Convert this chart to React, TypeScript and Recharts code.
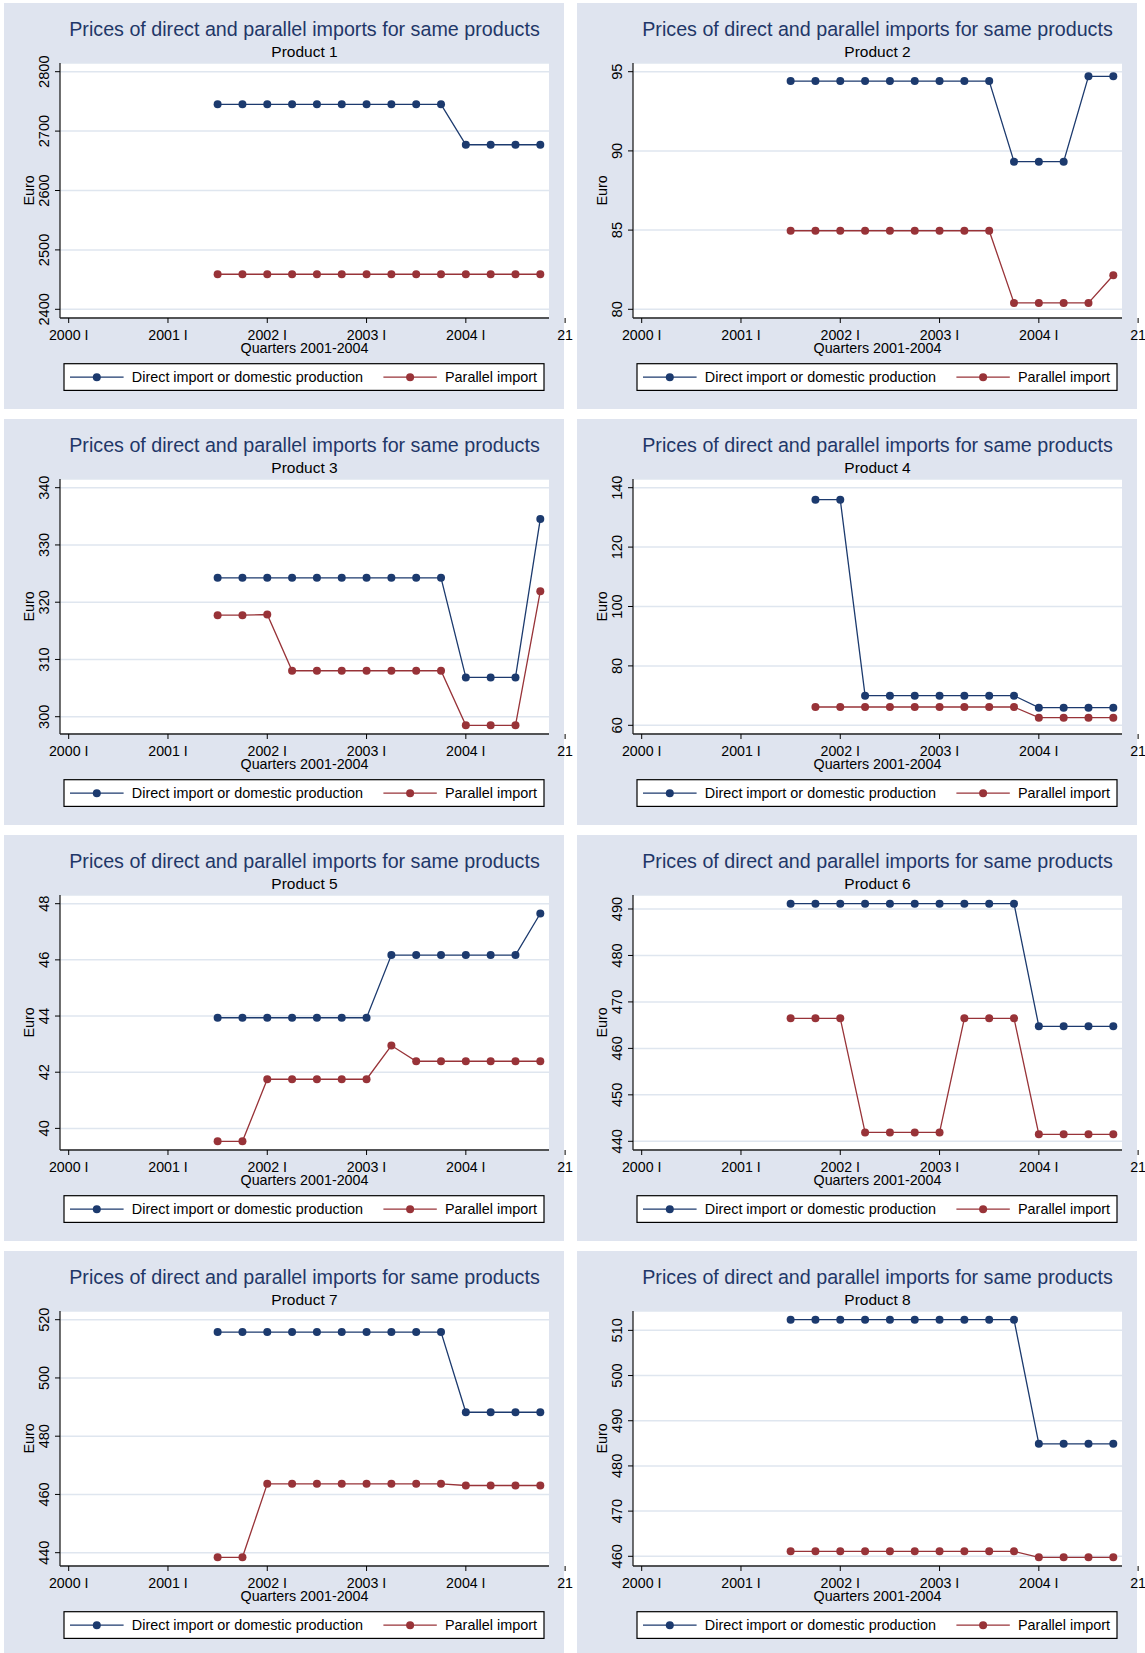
import React from 'react';
import { LineChart, Line, XAxis, YAxis, CartesianGrid } from 'recharts';

// quarter index: 0 = 2000 I
const QUARTERS = [6, 7, 8, 9, 10, 11, 12, 13, 14, 15, 16, 17, 18, 19];
const X_TICKS = [0, 4, 8, 12, 16, 20];
const X_TICK_LABELS = ['2000 I', '2001 I', '2002 I', '2003 I', '2004 I', '21'];

const SERIES_NAMES = ['Direct import or domestic production', 'Parallel import'];
const PRODUCT_NAMES = ['Product 1', 'Product 2', 'Product 3', 'Product 4', 'Product 5', 'Product 6', 'Product 7', 'Product 8'];

const P1_DIRECT = [2745, 2745, 2745, 2745, 2745, 2745, 2745, 2745, 2745, 2745, 2677, 2677, 2677, 2677];
const P1_PARALLEL = [2459, 2459, 2459, 2459, 2459, 2459, 2459, 2459, 2459, 2459, 2459, 2459, 2459, 2459];
const P1_TICKS = [2400, 2500, 2600, 2700, 2800];

const P2_DIRECT = [94.41, 94.41, 94.41, 94.41, 94.41, 94.41, 94.41, 94.41, 94.41, 89.32, 89.32, 89.32, 94.71, 94.71];
const P2_PARALLEL = [84.96, 84.96, 84.96, 84.96, 84.96, 84.96, 84.96, 84.96, 84.96, 80.4, 80.4, 80.4, 80.4, 82.15];
const P2_TICKS = [80, 85, 90, 95];

const P3_DIRECT = [324.25, 324.25, 324.25, 324.25, 324.25, 324.25, 324.25, 324.25, 324.25, 324.25, 306.86, 306.86, 306.86, 334.54];
const P3_PARALLEL = [317.74, 317.74, 317.85, 308.03, 308.03, 308.03, 308.03, 308.03, 308.03, 308.03, 298.5, 298.5, 298.5, 321.93];
const P3_TICKS = [300, 310, 320, 330, 340];

const P4_DIRECT = [null, 135.96, 135.96, 69.97, 69.97, 69.97, 69.97, 69.97, 69.97, 69.97, 65.93, 65.93, 65.93, 65.93];
const P4_PARALLEL = [null, 66.16, 66.16, 66.16, 66.16, 66.16, 66.16, 66.16, 66.16, 66.16, 62.56, 62.56, 62.56, 62.56];
const P4_TICKS = [60, 80, 100, 120, 140];

const P5_DIRECT = [43.94, 43.94, 43.94, 43.94, 43.94, 43.94, 43.94, 46.17, 46.17, 46.17, 46.17, 46.17, 46.17, 47.65];
const P5_PARALLEL = [39.54, 39.54, 41.75, 41.75, 41.75, 41.75, 41.75, 42.95, 42.39, 42.39, 42.39, 42.39, 42.39, 42.39];
const P5_TICKS = [40, 42, 44, 46, 48];

const P6_DIRECT = [491.14, 491.14, 491.14, 491.14, 491.14, 491.14, 491.14, 491.14, 491.14, 491.14, 464.74, 464.74, 464.74, 464.74];
const P6_PARALLEL = [466.47, 466.47, 466.47, 441.92, 441.92, 441.92, 441.92, 466.47, 466.47, 466.47, 441.5, 441.5, 441.5, 441.5];
const P6_TICKS = [440, 450, 460, 470, 480, 490];

const P7_DIRECT = [515.75, 515.75, 515.75, 515.75, 515.75, 515.75, 515.75, 515.75, 515.75, 515.75, 488.22, 488.22, 488.22, 488.22];
const P7_PARALLEL = [438.42, 438.42, 463.65, 463.65, 463.65, 463.65, 463.65, 463.65, 463.65, 463.65, 463.08, 463.08, 463.08, 463.08];
const P7_TICKS = [440, 460, 480, 500, 520];

const P8_DIRECT = [512.36, 512.36, 512.36, 512.36, 512.36, 512.36, 512.36, 512.36, 512.36, 512.36, 484.9, 484.9, 484.9, 484.9];
const P8_PARALLEL = [461.1, 461.1, 461.1, 461.1, 461.1, 461.1, 461.1, 461.1, 461.1, 461.1, 459.78, 459.78, 459.78, 459.78];
const P8_TICKS = [460, 470, 480, 490, 500, 510];

const DIRECT = [P1_DIRECT, P2_DIRECT, P3_DIRECT, P4_DIRECT, P5_DIRECT, P6_DIRECT, P7_DIRECT, P8_DIRECT];
const PARALLEL = [P1_PARALLEL, P2_PARALLEL, P3_PARALLEL, P4_PARALLEL, P5_PARALLEL, P6_PARALLEL, P7_PARALLEL, P8_PARALLEL];
const Y_TICKS = [P1_TICKS, P2_TICKS, P3_TICKS, P4_TICKS, P5_TICKS, P6_TICKS, P7_TICKS, P8_TICKS];

const FONT = '"Liberation Sans", Arial, Helvetica, sans-serif';
const NAVY = '#1c3a6e';
const MAROON = '#983338';
const TITLE_COLOR = '#1f3768';
const PANEL_BG = '#dfe4ef';
const GRID = '#dfe6ef';

const PANEL_W = 560;
const PANEL_H = 406;
const CHART_W = 572;
const PLOT_L = 56;
const PLOT_R = 545;
const PLOT_T = 60;
const PLOT_B = 315;
const PAD_PX = 8.7;

const yDomain = (a: (number | null)[], b: (number | null)[], ticks: number[]) => {
  const vals = [...a, ...b, ...ticks].filter((v) => v != null) as number[];
  const lo = Math.min(...vals);
  const hi = Math.max(...vals);
  const pad = ((hi - lo) * PAD_PX) / (PLOT_B - PLOT_T - 2 * PAD_PX);
  return [lo - pad, hi + pad];
};

const xLo = Math.min(X_TICKS[0], QUARTERS[0]);
const xHi = QUARTERS[QUARTERS.length - 1];
const xPad = ((xHi - xLo) * PAD_PX) / (PLOT_R - PLOT_L - 2 * PAD_PX);

const YTick = (props: any) => {
  const { x, y, payload } = props;
  return (
    <text transform={`translate(${x},${y}) rotate(-90)`} textAnchor="middle" fontSize={14.6} fill="#000" fontFamily={FONT}>
      {payload.value}
    </text>
  );
};

const Panel = ({ index }: { index: number }) => {
  const direct = DIRECT[index];
  const parallel = PARALLEL[index];
  const ticks = Y_TICKS[index];
  const data = QUARTERS.map((q, i) => ({ q, direct: direct[i], parallel: parallel[i] }));
  const col = index % 2;
  const row = Math.floor(index / 2);
  const left = col ? 576.5 : 3.5;
  const top = 3.3 + row * 416;
  const cx = (PLOT_L + PLOT_R) / 2;

  return (
    <div style={{ position: 'absolute', left, top, width: CHART_W, height: PANEL_H }}>
      <div style={{ position: 'absolute', left: 0, top: 0, width: PANEL_W, height: PANEL_H, background: PANEL_BG }} />
      <div style={{ position: 'absolute', left: 0, top: 0 }}>
        <LineChart
          width={CHART_W}
          height={PANEL_H}
          data={data}
          margin={{ top: PLOT_T, right: CHART_W - PLOT_R, left: 0, bottom: 0 }}
          style={{ fontFamily: FONT }}
        >
          <CartesianGrid vertical={false} stroke={GRID} strokeWidth={1.5} fill="#ffffff" fillOpacity={1} />
          <XAxis
            type="number"
            dataKey="q"
            domain={[xLo - xPad, xHi + xPad]}
            ticks={X_TICKS}
            interval={0}
            allowDataOverflow
            tickFormatter={(v: number) => X_TICK_LABELS[X_TICKS.indexOf(v)]}
            height={PANEL_H - PLOT_B}
            tickSize={5}
            tickMargin={6.5}
            tick={{ fontSize: 14.2, fill: '#000', fontFamily: FONT }}
            tickLine={{ stroke: '#000', strokeWidth: 1 }}
            axisLine={{ stroke: '#222', strokeWidth: 1.3 }}
            label={(p: any) => {
              const vb = p.viewBox;
              return (
                <text x={vb.x + vb.width / 2} y={vb.y + 35} textAnchor="middle" fontSize={14.3} fill="#000" fontFamily={FONT}>
                  Quarters 2001-2004
                </text>
              );
            }}
          />
          <YAxis
            type="number"
            domain={yDomain(direct, parallel, ticks)}
            ticks={ticks}
            interval={0}
            allowDataOverflow
            width={PLOT_L}
            tickSize={5}
            tickMargin={6.5}
            tick={<YTick />}
            tickLine={{ stroke: '#000', strokeWidth: 1 }}
            axisLine={{ stroke: '#222', strokeWidth: 1.3 }}
            label={(p: any) => {
              const vb = p.viewBox;
              const ly = vb.y + vb.height / 2;
              return (
                <text transform={`translate(${vb.x + 29.5},${ly}) rotate(-90)`} textAnchor="middle" fontSize={14.3} fill="#000" fontFamily={FONT}>
                  Euro
                </text>
              );
            }}
          />
          <Line
            type="linear"
            dataKey="direct"
            stroke={NAVY}
            strokeWidth={1.3}
            dot={{ r: 4, fill: NAVY, stroke: NAVY, strokeWidth: 0 }}
            activeDot={false}
            isAnimationActive={false}
          />
          <Line
            type="linear"
            dataKey="parallel"
            stroke={MAROON}
            strokeWidth={1.3}
            dot={{ r: 4, fill: MAROON, stroke: MAROON, strokeWidth: 0 }}
            activeDot={false}
            isAnimationActive={false}
          />
        </LineChart>
      </div>
      <svg width={PANEL_W} height={PANEL_H} style={{ position: 'absolute', left: 0, top: 0, pointerEvents: 'none' }} fontFamily={FONT}>
        <text x={cx} y={32.5} textAnchor="middle" fontSize={19.7} fill={TITLE_COLOR}>
          Prices of direct and parallel imports for same products
        </text>
        <text x={cx} y={54.3} textAnchor="middle" fontSize={15.5} fill="#000">
          {PRODUCT_NAMES[index]}
        </text>
        <rect x={60} y={360.7} width={480} height={26.7} fill="#fff" stroke="#000" strokeWidth={1.2} />
        <line x1={66} x2={119.6} y1={374.2} y2={374.2} stroke={NAVY} strokeWidth={1.3} />
        <circle cx={92.8} cy={374.2} r={4} fill={NAVY} />
        <text x={127.8} y={379.2} fontSize={14.4} fill="#000">
          {SERIES_NAMES[0]}
        </text>
        <line x1={379.4} x2={432.8} y1={374.2} y2={374.2} stroke={MAROON} strokeWidth={1.3} />
        <circle cx={406.1} cy={374.2} r={4} fill={MAROON} />
        <text x={441} y={379.2} fontSize={14.4} fill="#000">
          {SERIES_NAMES[1]}
        </text>
      </svg>
    </div>
  );
};

export default function App() {
  return (
    <div
      style={{
        position: 'absolute',
        left: 0,
        top: 0,
        width: 1145,
        height: 1653,
        overflow: 'hidden',
        background: '#fff',
        fontFamily: FONT,
      }}
    >
      {PRODUCT_NAMES.map((_, i) => (
        <Panel key={i} index={i} />
      ))}
    </div>
  );
}
